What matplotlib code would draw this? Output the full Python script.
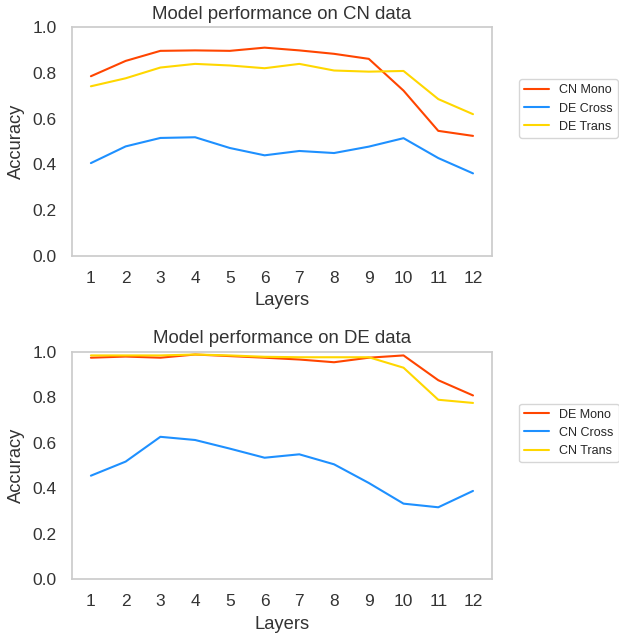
import matplotlib
matplotlib.use("Agg")
import matplotlib.pyplot as plt
import seaborn as sns

layers = list(range(1, 13))

cn_mono = [0.786, 0.853, 0.897, 0.899, 0.897, 0.911, 0.899, 0.884, 0.862, 0.723, 0.547, 0.525]
de_cross = [0.406, 0.479, 0.516, 0.519, 0.472, 0.440, 0.459, 0.450, 0.478, 0.515, 0.428, 0.361]
de_trans = [0.742, 0.777, 0.824, 0.840, 0.833, 0.821, 0.840, 0.811, 0.806, 0.809, 0.686, 0.620]

de_mono = [0.974, 0.979, 0.974, 0.988, 0.981, 0.974, 0.966, 0.954, 0.974, 0.984, 0.875, 0.808]
cn_cross = [0.455, 0.517, 0.626, 0.612, 0.574, 0.534, 0.549, 0.505, 0.423, 0.332, 0.316, 0.388]
cn_trans = [0.984, 0.984, 0.984, 0.988, 0.984, 0.978, 0.976, 0.976, 0.976, 0.930, 0.789, 0.775]

sns.set_theme(style="white", context="notebook")
plt.rcParams['font.family'] = ['Liberation Sans', 'DejaVu Sans']
plt.rcParams['axes.edgecolor'] = '#cccccc'

RED = '#FF4500'
BLUE = '#1E90FF'
YELLOW = '#FFD700'

fig = plt.figure(figsize=(6.19, 6.35), dpi=100)
ax1 = fig.add_axes([0.116, 0.597, 0.679, 0.360])
ax2 = fig.add_axes([0.116, 0.088, 0.679, 0.358])

def draw(ax, series, labels, title):
    for vals, lab, col in zip(series, labels, [RED, BLUE, YELLOW]):
        ax.plot(layers, vals, color=col, linewidth=1.5, label=lab)
    ax.set_ylim(0, 1.0)
    ax.set_xticks(layers)
    ax.set_yticks([0.0, 0.2, 0.4, 0.6, 0.8, 1.0])
    ax.tick_params(labelsize=12.5, pad=5, labelcolor='#333333')
    ax.set_xlabel("Layers", fontsize=13.2, labelpad=4.5, color='#333333')
    ax.set_ylabel("Accuracy", fontsize=13.2, labelpad=5, color='#333333')
    ax.set_title(title, fontsize=13.4, pad=6, color='#333333')
    for s in ax.spines.values():
        s.set_color('#cccccc')
        s.set_linewidth(1.25)
    ax.legend(loc='upper left', bbox_to_anchor=(1.05, 0.8), fontsize=9)

draw(ax1, [cn_mono, de_cross, de_trans], ["CN Mono", "DE Cross", "DE Trans"], "Model performance on CN data")
draw(ax2, [de_mono, cn_cross, cn_trans], ["DE Mono", "CN Cross", "CN Trans"], "Model performance on DE data")

fig.savefig("out.png", dpi=100)
